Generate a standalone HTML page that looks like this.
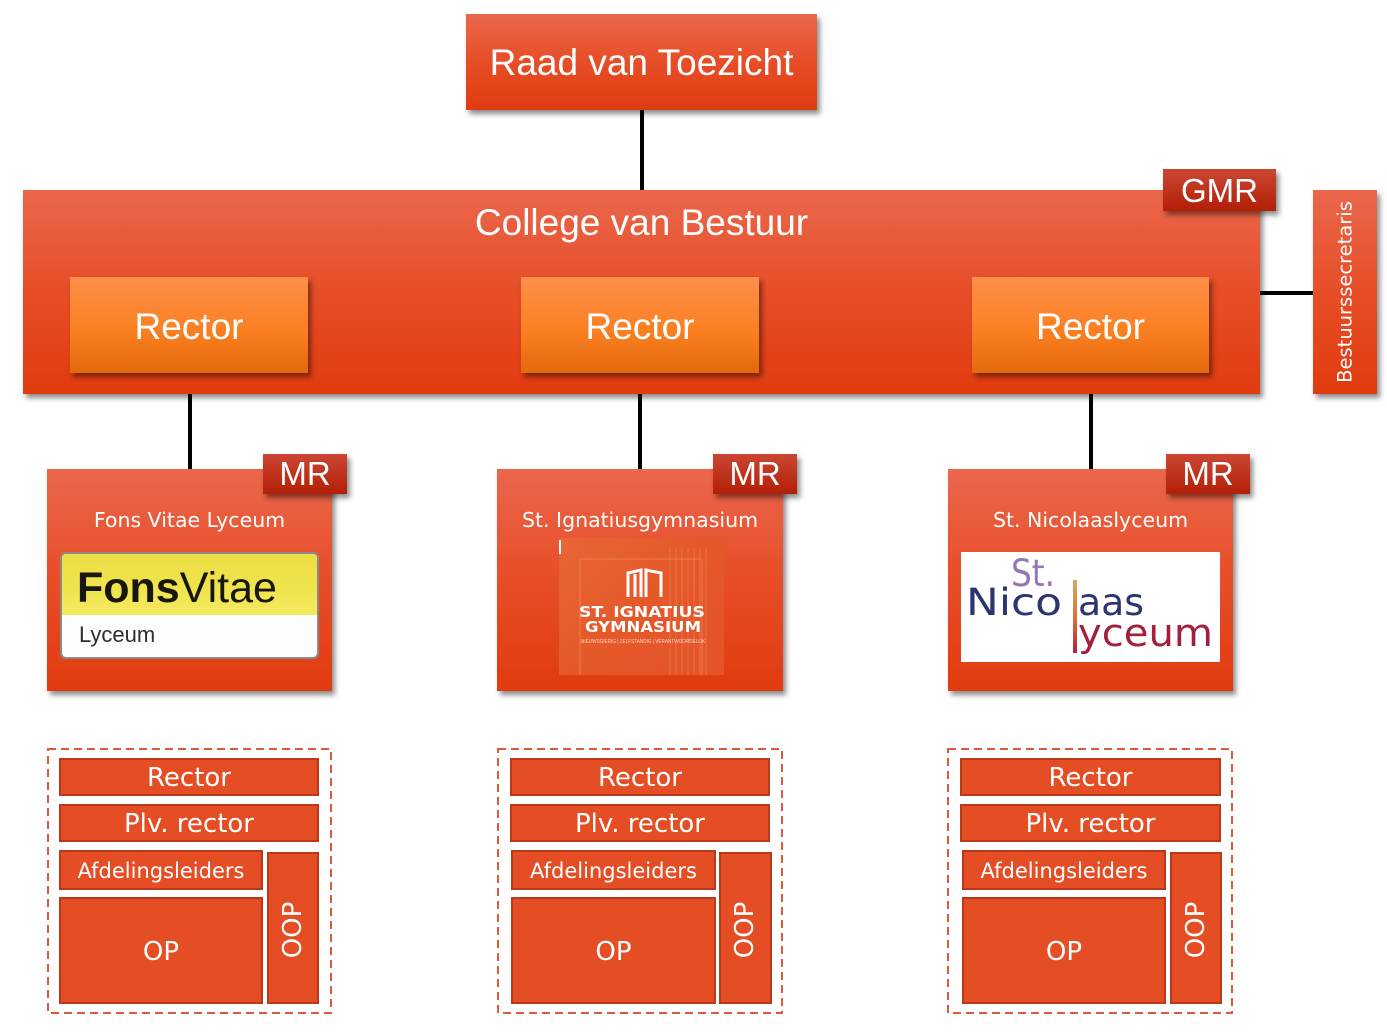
<!DOCTYPE html>
<html><head><meta charset="utf-8"><style>
html,body{margin:0;padding:0;background:#fff;}
body{width:1387px;height:1032px;position:relative;overflow:hidden;font-family:"Liberation Sans",sans-serif;}
.a{position:absolute;box-sizing:border-box;}
.red{background:linear-gradient(#ea674d,#e7502a 45%,#e13b0f);box-shadow:3px 4px 5px rgba(0,0,0,0.45);}
.org{background:linear-gradient(#fd8f4b,#fb8022 55%,#e3690c);box-shadow:3px 4px 5px rgba(0,0,0,0.45);}
.dk{background:linear-gradient(#cb4733,#b31e06);box-shadow:3px 4px 5px rgba(0,0,0,0.45);color:#fff;font-size:33px;text-align:center;line-height:40px;}
.t{color:#fff;text-align:center;white-space:nowrap;}
.ln{position:absolute;background:#000;}
.bar{background:#e54d24;border:2px solid #b83a1b;color:#fff;text-align:center;font-family:"DejaVu Sans",sans-serif;white-space:nowrap;}
.sn{font-family:"DejaVu Sans",sans-serif;font-size:20.5px;color:#fff;text-align:center;white-space:nowrap;}
</style></head><body>

<!-- connectors -->
<div class="ln" style="left:640px;top:108px;width:4px;height:84px;"></div>
<div class="ln" style="left:1260px;top:291px;width:54px;height:4px;"></div>
<div class="ln" style="left:188px;top:372px;width:4px;height:98px;"></div>
<div class="ln" style="left:638px;top:372px;width:4px;height:98px;"></div>
<div class="ln" style="left:1089px;top:372px;width:4px;height:98px;"></div>

<!-- Raad -->
<div class="a red t" style="left:466px;top:14px;width:351px;height:96px;font-size:37px;line-height:98px;">Raad van Toezicht</div>

<!-- College -->
<div class="a red" style="left:23px;top:190px;width:1237px;height:204px;"></div>
<div class="a t" style="left:23px;top:199px;width:1237px;font-size:37px;line-height:48px;">College van Bestuur</div>
<div class="a dk" style="left:1163px;top:169px;width:113px;height:42px;line-height:44px;">GMR</div>

<div class="a org t" style="left:70px;top:277px;width:238px;height:96px;font-size:37px;line-height:100px;">Rector</div>
<div class="a org t" style="left:521px;top:277px;width:238px;height:96px;font-size:37px;line-height:100px;">Rector</div>
<div class="a org t" style="left:972px;top:277px;width:237px;height:96px;font-size:37px;line-height:100px;">Rector</div>

<!-- Bestuurssecretaris -->
<div class="a red" style="left:1313px;top:190px;width:64px;height:204px;"></div>
<div class="a" style="left:1313px;top:190px;width:64px;height:204px;">
  <div style="position:absolute;left:32px;top:102px;transform:translate(-50%,-50%) rotate(-90deg);font-family:'DejaVu Sans',sans-serif;font-size:19.5px;color:#fff;white-space:nowrap;">Bestuurssecretaris</div>
</div>

<!-- School 1 -->
<div class="a red" style="left:47px;top:469px;width:285px;height:222px;"></div>
<div class="a dk" style="left:263px;top:454px;width:84px;height:40px;">MR</div>
<div class="a sn" style="left:47px;top:506px;width:285px;line-height:28px;">Fons Vitae Lyceum</div>
<div class="a" style="left:60px;top:552px;width:259px;height:107px;background:#fdfdfd;border:2px solid #8a8a8a;border-radius:6px;overflow:hidden;">
  <div style="position:absolute;left:0;top:0;width:100%;height:61px;background:linear-gradient(#ebdd45,#f0e44e 60%,#f4ea60);"></div>
  <div style="position:absolute;left:15px;top:10px;font-size:43px;line-height:48px;color:#17160f;white-space:nowrap;"><b>Fons</b>Vitae</div>
  <div style="position:absolute;left:17px;top:67px;font-size:22px;line-height:28px;color:#2e2e2e;">Lyceum</div>
</div>

<!-- School 2 -->
<div class="a red" style="left:497px;top:469px;width:286px;height:222px;"></div>
<div class="a dk" style="left:713px;top:454px;width:84px;height:40px;">MR</div>
<div class="a sn" style="left:497px;top:506px;width:286px;line-height:28px;">St. Ignatiusgymnasium</div>
<div class="a" style="left:559px;top:538px;width:165px;height:137px;background:linear-gradient(135deg,#e86635,#e5582a 50%,#e4552a);overflow:hidden;">
  <div style="position:absolute;left:20px;top:20px;width:120px;height:130px;border:2px solid rgba(255,170,130,0.2);"></div>
  <div style="position:absolute;left:110px;top:10px;width:40px;height:130px;background:repeating-linear-gradient(90deg,rgba(255,170,130,0.15) 0 2px,transparent 2px 6px);"></div>
  <svg style="position:absolute;left:0;top:0;" width="165" height="137" viewBox="0 0 165 137">
    <path d="M69 59 V35 L82 32 V59 M76 59 V36" fill="none" stroke="#fff" stroke-width="3"/>
    <path d="M87 59 V32 L102 35 V59" fill="none" stroke="#fff" stroke-width="3"/>
    <text x="20" y="79" textLength="126" lengthAdjust="spacingAndGlyphs" font-family="DejaVu Sans" font-weight="bold" font-size="15" fill="#fff">ST. IGNATIUS</text>
    <text x="26" y="94" textLength="116" lengthAdjust="spacingAndGlyphs" font-family="DejaVu Sans" font-weight="bold" font-size="15" fill="#fff">GYMNASIUM</text>
    <text x="22" y="105" textLength="124" lengthAdjust="spacingAndGlyphs" font-family="Liberation Sans" font-size="5" fill="#ffd8c8">NIEUWSGIERIG | ZELFSTANDIG | VERANTWOORDELIJK</text>
  </svg>
</div>
<div class="a" style="left:559px;top:540px;width:2px;height:14px;background:#fff;"></div>

<!-- School 3 -->
<div class="a red" style="left:948px;top:469px;width:285px;height:222px;"></div>
<div class="a dk" style="left:1166px;top:454px;width:84px;height:40px;">MR</div>
<div class="a sn" style="left:948px;top:506px;width:285px;line-height:28px;">St. Nicolaaslyceum</div>
<div class="a" style="left:961px;top:552px;width:259px;height:110px;background:#fff;overflow:hidden;">
  <svg width="259" height="110" viewBox="0 0 259 110">
    <defs><linearGradient id="lb" x1="0" y1="0" x2="0" y2="1"><stop offset="0" stop-color="#d9a85e"/><stop offset="0.5" stop-color="#d6763c"/><stop offset="1" stop-color="#b2233a"/></linearGradient></defs>
    <text x="50" y="34" textLength="44" lengthAdjust="spacingAndGlyphs" font-family="DejaVu Sans" font-size="37" fill="#9378b8">St.</text>
    <text x="5" y="63" textLength="96" lengthAdjust="spacingAndGlyphs" font-family="DejaVu Sans" font-size="37" fill="#2b3670">Nico</text>
    <rect x="112" y="28" width="4" height="73" fill="url(#lb)"/>
    <text x="117" y="63" textLength="66" lengthAdjust="spacingAndGlyphs" font-family="DejaVu Sans" font-size="37" fill="#2b3670">aas</text>
    <text x="117" y="94" textLength="135" lengthAdjust="spacingAndGlyphs" font-family="DejaVu Sans" font-size="38" fill="#a31f3c">yceum</text>
  </svg>
</div>

<!-- dashed outlines -->
<svg class="a" style="left:0;top:0;" width="1387" height="1032" viewBox="0 0 1387 1032">
  <g fill="none" stroke="#db5a3b" stroke-width="2" stroke-dasharray="8 5">
    <rect x="48" y="749" width="283" height="264"/>
    <rect x="498" y="749" width="284" height="264"/>
    <rect x="948" y="749" width="284" height="264"/>
  </g>
</svg>

<!-- Bottom blocks -->
<div class="a bar" style="left:59px;top:758px;width:260px;height:38px;font-size:26px;line-height:37px;">Rector</div>
<div class="a bar" style="left:59px;top:804px;width:260px;height:38px;font-size:26px;line-height:37px;">Plv. rector</div>
<div class="a bar" style="left:59px;top:850px;width:204px;height:40px;font-size:21px;line-height:39px;">Afdelingsleiders</div>
<div class="a bar" style="left:59px;top:897px;width:204px;height:107px;font-size:26px;line-height:106px;">OP</div>
<div class="a bar" style="left:267px;top:852px;width:52px;height:152px;"><div style="position:absolute;left:24px;top:76px;transform:translate(-50%,-50%) rotate(-90deg);font-size:26px;">OOP</div></div>

<div class="a bar" style="left:510px;top:758px;width:260px;height:38px;font-size:26px;line-height:37px;">Rector</div>
<div class="a bar" style="left:510px;top:804px;width:260px;height:38px;font-size:26px;line-height:37px;">Plv. rector</div>
<div class="a bar" style="left:511px;top:850px;width:205px;height:40px;font-size:21px;line-height:39px;">Afdelingsleiders</div>
<div class="a bar" style="left:511px;top:897px;width:205px;height:107px;font-size:26px;line-height:106px;">OP</div>
<div class="a bar" style="left:719px;top:852px;width:53px;height:152px;"><div style="position:absolute;left:24px;top:76px;transform:translate(-50%,-50%) rotate(-90deg);font-size:26px;">OOP</div></div>

<div class="a bar" style="left:960px;top:758px;width:261px;height:38px;font-size:26px;line-height:37px;">Rector</div>
<div class="a bar" style="left:960px;top:804px;width:261px;height:38px;font-size:26px;line-height:37px;">Plv. rector</div>
<div class="a bar" style="left:962px;top:850px;width:204px;height:40px;font-size:21px;line-height:39px;">Afdelingsleiders</div>
<div class="a bar" style="left:962px;top:897px;width:204px;height:107px;font-size:26px;line-height:106px;">OP</div>
<div class="a bar" style="left:1170px;top:852px;width:52px;height:152px;"><div style="position:absolute;left:24px;top:76px;transform:translate(-50%,-50%) rotate(-90deg);font-size:26px;">OOP</div></div>

</body></html>
